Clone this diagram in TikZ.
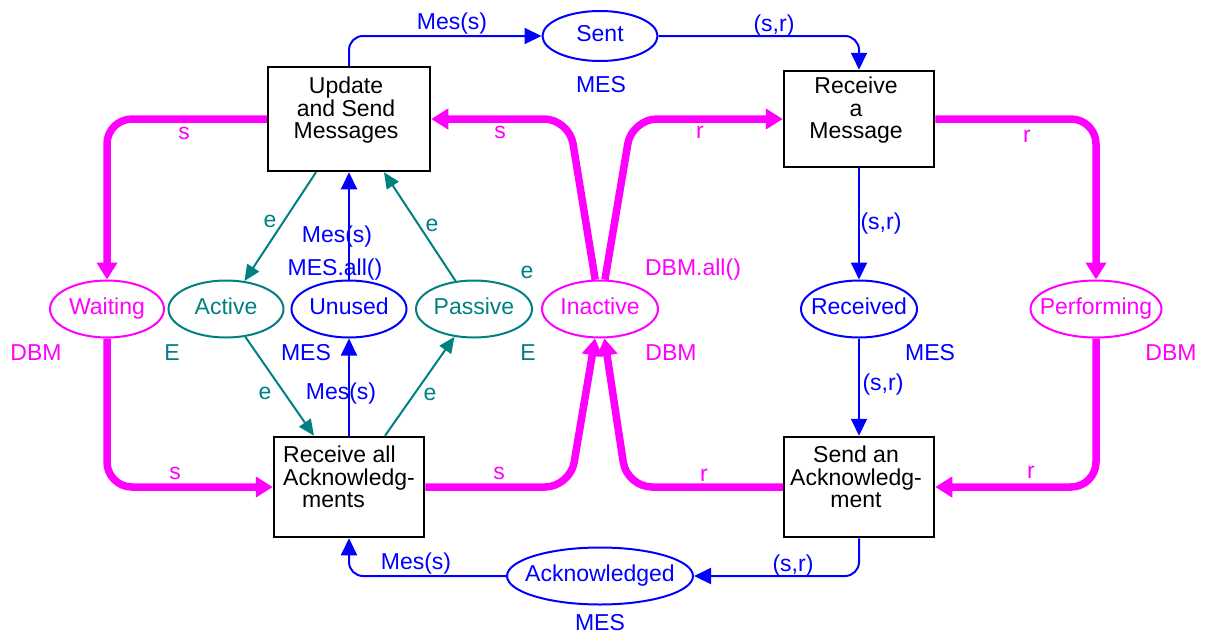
\documentclass[tikz,border=0pt]{standalone}
\usepackage{fontspec}
\setmainfont{Liberation Sans}
\usetikzlibrary{arrows.meta,shapes.geometric,calc}
\definecolor{mag}{RGB}{255,0,255}
\definecolor{blu}{RGB}{0,0,255}
\definecolor{tl}{RGB}{0,128,128}
\newcommand\pl[1]{\makebox[0pt]{\vphantom{Ag}#1}}
\begin{document}
\begin{tikzpicture}[x=1pt,y=-1pt,
  font=\fontsize{23}{22.5}\selectfont,
  trans/.style={draw=black,line width=2.5pt,inner sep=0pt,fill=white},
  place/.style={ellipse,draw,line width=2pt,inner sep=0pt,minimum height=57pt},
  btext/.style={inner sep=0pt,align=center,anchor=north},
  lab/.style={inner sep=0pt},
  magarc/.style={draw=mag,line width=7.5pt,rounded corners=25pt,-{Triangle[length=17pt,width=20pt]}},
  bluarc/.style={draw=blu,line width=2pt,rounded corners=14pt,-{Triangle[length=17pt,width=16pt]}},
  tlarc/.style={draw=tl,line width=2pt,-{Triangle[length=16pt,width=14pt]}},
  mlab/.style={lab,text=mag},
  blab/.style={lab,text=blu},
  tlab/.style={lab,text=tl}
]
\useasboundingbox (0,0) rectangle (1206,637);

% transitions
\node[trans,minimum width=162pt,minimum height=104pt] (US) at (349,119) {};
\node[trans,minimum width=150pt,minimum height=96pt] (RaM) at (859,119) {};
\node[trans,minimum width=150pt,minimum height=100pt] (RAA) at (349,487) {};
\node[trans,minimum width=150pt,minimum height=100pt] (SaA) at (859,487) {};

\node[btext] (UStxt) at (346,77) {Update\\and Send\\Messages};
\node[btext] (RaMtxt) at (856,77) {Receive\\a\\Message};
\node[btext,align=left,anchor=north west] (RAAtxt) at (283,446) {Receive all\\Acknowledg-\\\hspace*{19pt}ments};
\node[btext] (SaAtxt) at (856,446) {Send an\\Acknowledg-\\ment};

% places
\node[place,draw=blu,text=blu,minimum width=115pt,minimum height=50pt] (Sent) at (600,36) {\pl{Sent}};
\node[place,draw=mag,text=mag,minimum width=114pt] (Waiting) at (107,309) {\pl{Waiting}};
\node[place,draw=tl,text=tl,minimum width=115pt] (Active) at (226,309) {\pl{Active}};
\node[place,draw=blu,text=blu,minimum width=115pt] (Unused) at (349,309) {\pl{Unused}};
\node[place,draw=tl,text=tl,minimum width=116pt] (Passive) at (474,309) {\pl{Passive}};
\node[place,draw=mag,text=mag,minimum width=116pt] (Inactive) at (600,309) {\pl{Inactive}};
\node[place,draw=blu,text=blu,minimum width=116pt] (Received) at (859,309) {\pl{Received}};
\node[place,draw=mag,text=mag,minimum width=131pt] (Performing) at (1096,309) {\pl{Performing}};
\node[place,draw=blu,text=blu,minimum width=186pt] (Ack) at (600,576) {\pl{Acknowledged}};

% bend points
\coordinate (b1) at (570,487);
\coordinate (b2) at (569,119);
\coordinate (b3) at (632,119);
\coordinate (b4) at (627,487);

% magenta arcs
\draw[magarc] (US) -| (Waiting);
\draw[magarc] (Waiting) |- (RAA);
\draw[magarc] (RAA) -- (b1) -- (Inactive);
\draw[magarc] (Inactive) -- (b2) -- (US);
\draw[magarc] (Inactive) -- (b3) -- (RaM);
\draw[magarc] (SaA) -- (b4) -- (Inactive);
\draw[magarc] (RaM) -| (Performing);
\draw[magarc] (Performing) |- (SaA);

% blue arcs
\draw[bluarc] (US) |- (Sent);
\draw[bluarc] (Sent) -| (RaM);
\draw[bluarc] (SaA) |- (Ack);
\draw[bluarc] (Ack) -| (RAA);
\draw[bluarc] (Unused) -- (US);
\draw[bluarc] (RAA) -- (Unused);
\draw[bluarc] (RaM) -- (Received);
\draw[bluarc] (Received) -- (SaA);

% teal arcs
\draw[tlarc] ($(US.south)+(-33,0)$) -- (Active);
\draw[tlarc] (Passive) -- ($(US.south)+(35,0)$);
\draw[tlarc] (Active) -- ($(RAA.north)+(-35,0)$);
\draw[tlarc] ($(RAA.north)+(36,0)$) -- (Passive);

% magenta labels
\node[mlab] (m1) at (184,133) {s};
\node[mlab] (m2) at (500,132) {s};
\node[mlab] (m3) at (700,132) {r};
\node[mlab] (m4) at (1027,136) {r};
\node[mlab] (m5) at (175,473) {s};
\node[mlab] (m6) at (499,473) {s};
\node[mlab] (m7) at (704,475) {r};
\node[mlab] (m8) at (1031,472) {r};
\node[mlab] (m9) at (36,353) {DBM};
\node[mlab] (m10) at (693,270) {DBM.all()};
\node[mlab] (m11) at (671,353) {DBM};
\node[mlab] (m12) at (1171,353) {DBM};

% teal labels
\node[tlab] (t1) at (270,221) {e};
\node[tlab] (t2) at (432,225) {e};
\node[tlab] (t3) at (527,272) {e};
\node[tlab] (t4) at (172,353) {E};
\node[tlab] (t5) at (528,353) {E};
\node[tlab] (t6) at (265,393) {e};
\node[tlab] (t7) at (430,394) {e};

% blue labels
\node[blab] (c1) at (452,24) {Mes(s)};
\node[blab] (c2) at (774,26) {(s,r)};
\node[blab] (c3) at (601,85) {MES};
\node[blab] (c4) at (337,237) {Mes(s)};
\node[blab] (c5) at (335,270) {MES.all()};
\node[blab] (c6) at (306,353) {MES};
\node[blab] (c7) at (341,394) {Mes(s)};
\node[blab] (c8) at (881,224) {(s,r)};
\node[blab] (c9) at (930,353) {MES};
\node[blab] (c10) at (883,385) {(s,r)};
\node[blab] (c11) at (793,566) {(s,r)};
\node[blab] (c12) at (416,564) {Mes(s)};
\node[blab] (c13) at (600,623) {MES};
\end{tikzpicture}
\end{document}
